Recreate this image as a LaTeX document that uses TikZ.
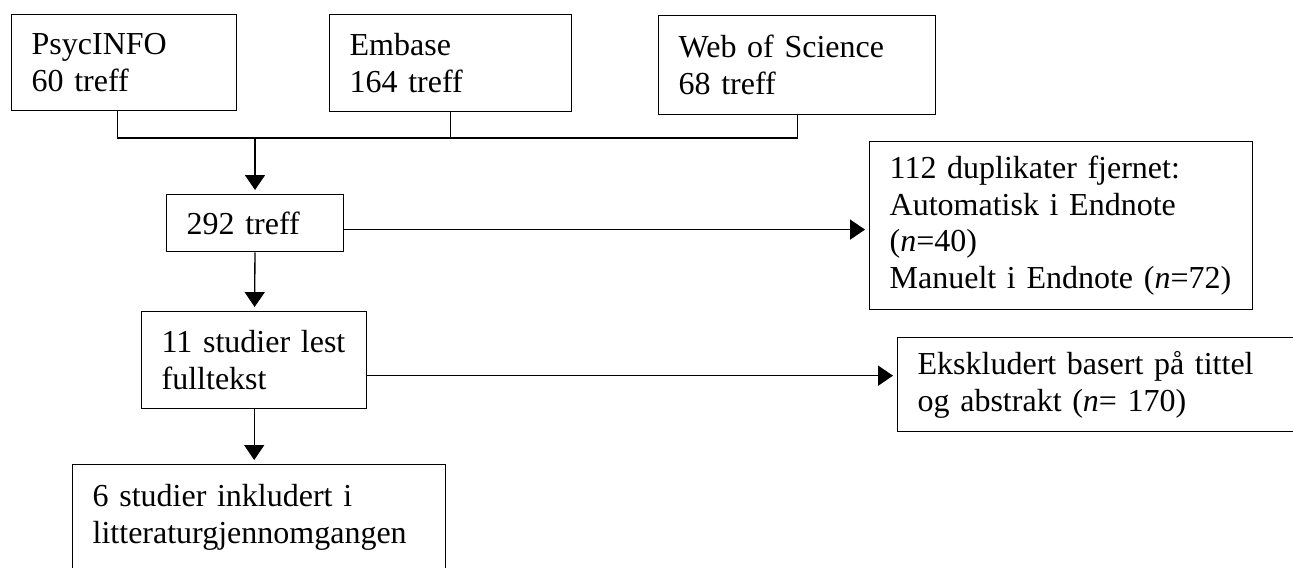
\documentclass[tikz,border=0pt]{standalone}
\usepackage{fontspec}
\setmainfont{Liberation Serif}
\usetikzlibrary{arrows.meta, calc, positioning}
\tikzset{>={Triangle[length=5.6pt,width=7.5pt]}}

\begin{document}
\begin{tikzpicture}[x=0.375pt,y=-0.375pt,line width=0.5pt,shorten >=1.5pt]
\tikzstyle{every node}=[font=\fontsize{12pt}{13.8pt}\selectfont]
\tikzstyle{box}=[draw,anchor=north west,align=left,inner xsep=7.5pt]

\useasboundingbox (0,0) rectangle (1293,567);
\clip (0,0) rectangle (1293,567);

% databases
\node[box,text width=69.4pt,minimum height=36pt]   (psyc)   at (11,14)  {PsycINFO\\60 treff};
\node[box,text width=75.7pt,minimum height=36.4pt] (embase) at (329,14) {Embase\\164 treff};
\node[box,text width=88.9pt,minimum height=37.1pt] (wos)    at (658,15) {Web of Science\\68 treff};

% screening
\node[box,text width=51.4pt,minimum height=21.4pt]  (total) at (166,194) {292 treff};
\node[box,text width=128.6pt,minimum height=63pt]   (dupl)  at (869,141)
  {112 duplikater fjernet:\\Automatisk i Endnote\\(\textit{n}=40)\\Manuelt i Endnote (\textit{n}=72)};
\node[box,text width=69.4pt,minimum height=36.4pt]  (full)  at (141,311) {11 studier lest\\fulltekst};
\node[box,text width=142.5pt,minimum height=35.2pt] (excl)  at (897,337)
  {Ekskludert basert på tittel\\og abstrakt (\textit{n}= 170)};
\node[box,text width=124.9pt,inner ysep=7.5pt,text depth=30pt] (incl) at (72,464)
  {6 studier inkludert i\\litteraturgjennomgangen};

\coordinate (join) at (255,138);
\coordinate (t1) at ([yshift=-2.4pt]total.east);
\coordinate (f1) at ([yshift=-5.8pt]full.east);

\draw[shorten >=0pt] ([xshift=-2.4pt]psyc.south) |- (join -| wos.south) -- (wos.south);
\draw[shorten >=0pt] (embase.south) -- (embase.south |- join);
\draw[->] (join) -- (join |- total.north);
\draw[->] (total) -- (full);
\draw[->] (full.south) -- (full.south |- incl.north);
\draw[->] (t1) -- (t1 -| dupl.west);
\draw[->] (f1) -- (f1 -| excl.west);

\end{tikzpicture}
\end{document}
